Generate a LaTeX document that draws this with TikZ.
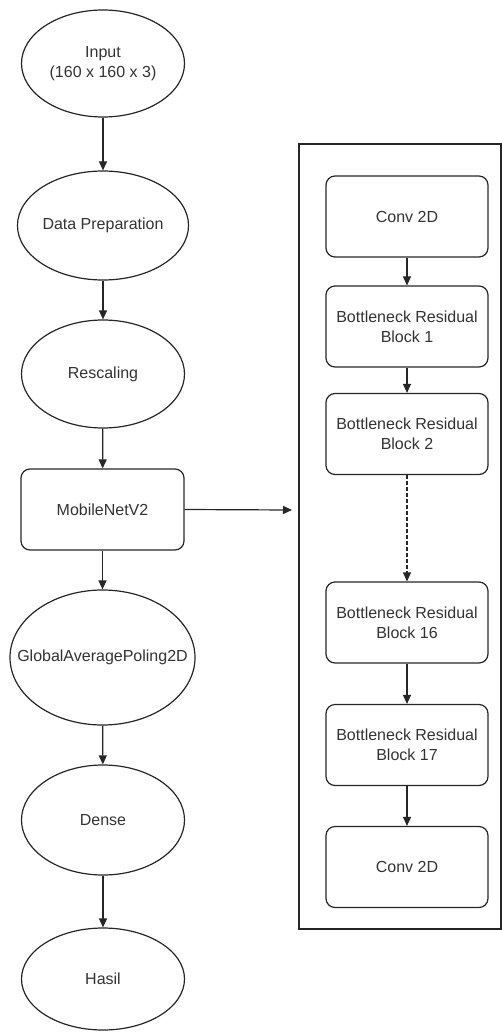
\documentclass[tikz,border=0pt]{standalone}
\usepackage{fontspec}
\setmainfont{Liberation Sans}
\usetikzlibrary{shapes.geometric,arrows.meta}
\begin{document}
\begin{tikzpicture}[x=1pt,y=-1pt,
  every node/.style={font=\fontsize{16}{20}\selectfont, text=black!80, align=center, inner sep=0pt, line width=1.2pt, draw=black!85},
  ell/.style={ellipse, minimum width=163pt, minimum height=108pt},
  rbox/.style={rectangle, rounded corners=9pt, minimum width=163pt, minimum height=81pt},
  arr/.style={-{Triangle[length=9pt,width=8pt]}, line width=1.2pt, draw=black!85}]
\useasboundingbox (0,0) rectangle (502,1032);
% left column
\node[ell, minimum height=107pt] (inp) at (103,63.5) {Input\\(160 x 160 x 3)};
\node[ell, minimum height=109pt] (dp) at (103,225.5) {Data Preparation};
\node[ell] (resc) at (103,374) {Rescaling};
\node[rbox] (mob) at (102.5,509.5) {MobileNetV2};
\node[ell, minimum width=185pt, minimum height=135pt, inner xsep=-20pt] (gap) at (102.5,657.5) {GlobalAveragePoling2D};
\node[ell, minimum height=110pt] (dense) at (103,820) {Dense};
\node[ell, minimum height=102pt] (hasil) at (103,979) {Hasil};
\draw[arr] (inp) -- (dp);
\draw[arr] (dp) -- (resc);
\draw[arr] (resc) -- (mob);
\draw[arr] (mob) -- (gap);
\draw[arr] (gap) -- (dense);
\draw[arr] (dense) -- (hasil);
% container
\node[rectangle, minimum width=202pt, minimum height=785pt] (cont) at (400,536.5) {};
\coordinate (mobend) at (292,510);
\draw[arr] (mob.east) -- (mobend);
% right column
\node[rbox, minimum width=162pt] (c1) at (407,216.5) {Conv 2D};
\node[rbox, minimum width=162pt] (b1) at (407,326.5) {Bottleneck Residual\\Block 1};
\node[rbox, minimum width=162pt] (b2) at (407,434) {Bottleneck Residual\\Block 2};
\node[rbox, minimum width=162pt] (b16) at (407,622.5) {Bottleneck Residual\\Block 16};
\node[rbox, minimum width=162pt] (b17) at (407,745) {Bottleneck Residual\\Block 17};
\node[rbox, minimum width=162pt] (c2) at (407,867) {Conv 2D};
\draw[arr] (c1) -- (b1);
\draw[arr] (b1) -- (b2);
\draw[arr, dash pattern=on 4pt off 2pt] (b2) -- (b16);
\draw[arr] (b16) -- (b17);
\draw[arr] (b17) -- (c2);
\end{tikzpicture}
\end{document}
